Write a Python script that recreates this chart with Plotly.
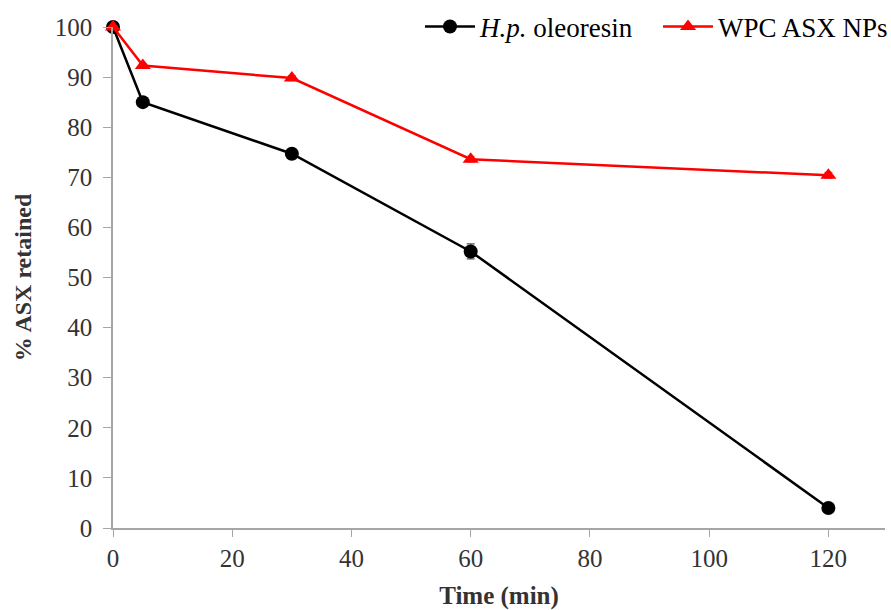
import plotly.graph_objects as go

time_min = [0, 5, 30, 60, 120]
hp_oleoresin = [100, 85.0, 74.7, 55.2, 4.0]
hp_err = [0.5, 0.6, 1.0, 1.5, 0.5]
wpc_asx_nps = [100, 92.3, 89.8, 73.6, 70.4]
wpc_err = [0.3, 0.4, 0.5, 0.6, 0.6]
x_ticks = [0, 20, 40, 60, 80, 100, 120]
y_ticks = [0, 10, 20, 30, 40, 50, 60, 70, 80, 90, 100]

FONT = "Liberation Serif"

fig = go.Figure()
fig.add_trace(go.Scatter(
    x=time_min, y=hp_oleoresin, mode="lines+markers",
    name="<i>H.p.</i> oleoresin",
    line=dict(color="black", width=2.5),
    marker=dict(symbol="circle", size=14, color="black"),
    error_y=dict(type="data", array=hp_err, color="#555", thickness=1.2, width=4),
    cliponaxis=False,
))
fig.add_trace(go.Scatter(
    x=time_min, y=wpc_asx_nps, mode="lines+markers",
    name="WPC ASX NPs",
    line=dict(color="#ff0000", width=2.5),
    marker=dict(symbol="triangle-up", size=14, color="#ff0000"),
    error_y=dict(type="data", array=wpc_err, color="#ff6666", thickness=1.2, width=4),
    cliponaxis=False,
))

fig.update_layout(
    width=891, height=610,
    margin=dict(l=113, r=6, t=27, b=82, autoexpand=False),
    plot_bgcolor="white", paper_bgcolor="white",
    font=dict(family=FONT, size=24, color="#333"),
    showlegend=True,
    legend=dict(orientation="h", x=(420 - 113) / 772, xanchor="left", y=1.0, yanchor="middle",
                font=dict(family=FONT, size=27, color="black"),
                bgcolor="rgba(255,255,255,0)", itemwidth=50, tracegroupgap=0,
                entrywidth=173),
    xaxis=dict(range=[0, 129.5], tickvals=x_ticks, showgrid=False, zeroline=False,
               showline=True, linecolor="#a6a6a6", linewidth=1.5,
               ticks="outside", ticklen=7, tickcolor="#a6a6a6",
               tickfont=dict(family=FONT, size=25, color="#333"),
               title=dict(text="<b>Time (min)</b>", font=dict(family=FONT, size=25, color="#333"),
                          standoff=17)),
    yaxis=dict(range=[0, 100], tickvals=y_ticks, showgrid=False, zeroline=False,
               showline=True, linecolor="#a6a6a6", linewidth=1.5,
               ticks="outside", ticklen=8, tickcolor="#a6a6a6", ticklabelstandoff=6,
               tickfont=dict(family=FONT, size=25, color="#333"),
               title=dict(text="<b>% ASX retained</b>", font=dict(family=FONT, size=24, color="#333"),
                          standoff=16)),
)

fig.write_html("out.html")
